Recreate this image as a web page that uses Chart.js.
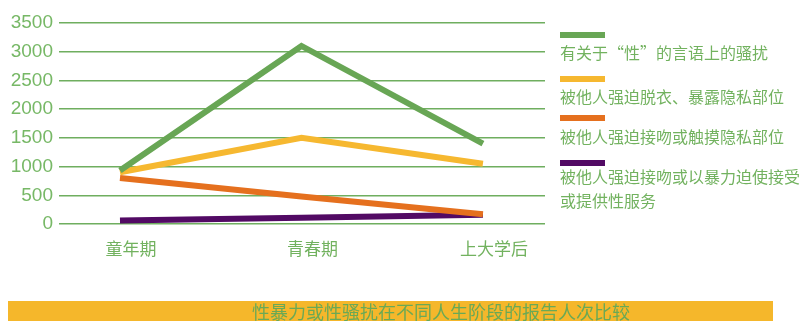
<!DOCTYPE html>
<html>
<head>
<meta charset="utf-8">
<script src="https://cdn.jsdelivr.net/npm/chart.js@4"></script>
<style>
  body { margin: 0; background: #fff; overflow: hidden; width: 810px; height: 321px; position: relative; }
  #chart { position: absolute; left: 0; top: 0; }
  .legend { position: absolute; left: 560px; font-family: "Noto Sans CJK SC", sans-serif; font-size: 16px; color: #72b25f; line-height: 24px; }
  .swatch { position: absolute; left: 560px; width: 45px; height: 6px; }
  .banner { position: absolute; left: 8px; top: 301px; width: 765px; height: 25px; background: #f5b72b; }
  .banner span { position: absolute; left: 244px; top: -1px; font-family: "Noto Sans CJK SC", sans-serif; font-size: 18px; line-height: 22px; color: #6aa955; white-space: nowrap; }
</style>
</head>
<body>
<canvas id="chart" width="810" height="300"></canvas>

<div class="swatch" style="top:32px;background:#68a655"></div>
<div class="legend" style="top:40px">有关于“性”的言语上的骚扰</div>
<div class="swatch" style="top:76px;background:#f6b830"></div>
<div class="legend" style="top:84px">被他人强迫脱衣、暴露隐私部位</div>
<div class="swatch" style="top:115px;background:#e5701e"></div>
<div class="legend" style="top:124px">被他人强迫接吻或触摸隐私部位</div>
<div class="swatch" style="top:160px;background:#520a64"></div>
<div class="legend" style="top:164px">被他人强迫接吻或以暴力迫使接受<br>或提供性服务</div>

<div class="banner"><span>性暴力或性骚扰在不同人生阶段的报告人次比较</span></div>

<script>
const categories = ["童年期", "青春期", "上大学后"];
const seriesNames = [
  "有关于“性”的言语上的骚扰",
  "被他人强迫脱衣、暴露隐私部位",
  "被他人强迫接吻或触摸隐私部位",
  "被他人强迫接吻或以暴力迫使接受或提供性服务",
];
const verbal = [930, 3100, 1400];
const undress = [900, 1500, 1050];
const touch = [800, 480, 170];
const coerce = [60, 110, 160];
const yTicks = [0, 500, 1000, 1500, 2000, 2500, 3000, 3500];

const colors = ["#68a655", "#f6b830", "#e5701e", "#520a64"];
const points = (vals) => vals.map((v, i) => ({ x: i, y: v }));

document.addEventListener("DOMContentLoaded", function () {
  const ctx = document.getElementById("chart").getContext("2d");

  new Chart(ctx, {
    type: "line",
    data: {
      datasets: [verbal, undress, touch, coerce].map((vals, i) => ({
        label: seriesNames[i],
        data: points(vals),
        borderColor: colors[i],
        borderWidth: 6,
        pointRadius: 0,
        borderJoinStyle: "miter",
        borderCapStyle: "butt",
        tension: 0,
      })),
    },
    options: {
      responsive: false,
      animation: false,
      layout: { padding: { left: 0, right: 265, top: 23, bottom: 0 } },
      plugins: { legend: { display: false }, tooltip: { enabled: false } },
      scales: {
        x: {
          type: "linear",
          min: -0.336,
          max: 2.342,
          afterBuildTicks: (scale) => {
            scale.ticks = categories.map((c, i) => ({ value: i }));
          },
          afterFit: (scale) => { scale.height = 76; },
          grid: { display: false },
          border: { display: false },
          ticks: {
            callback: (value) => categories[value],
            color: "#72b25f",
            font: { family: "Noto Sans CJK SC", size: 17 },
            padding: 6,
            labelOffset: 11,
            maxRotation: 0,
          },
        },
        y: {
          min: 0,
          max: 3500,
          afterBuildTicks: (scale) => {
            scale.ticks = yTicks.map((v) => ({ value: v }));
          },
          afterFit: (scale) => { scale.width = 59; },
          grid: { color: "#6fae5f", lineWidth: 1.5, drawTicks: false },
          border: { display: false },
          ticks: {
            callback: (value) => String(value),
            color: "#77b866",
            font: { family: "Liberation Sans", size: 19 },
            padding: 6,
          },
        },
      },
    },
  });
});
</script>
</body>
</html>
